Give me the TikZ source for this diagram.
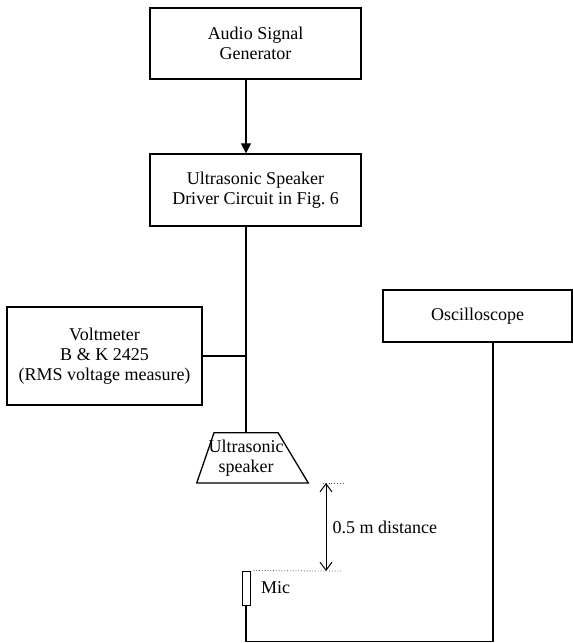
\documentclass[tikz,border=0pt]{standalone}
\usepackage{fontspec}
\setmainfont{Liberation Serif}
\usetikzlibrary{arrows.meta,calc,positioning,shapes.geometric}

\begin{document}
\begin{tikzpicture}[
  x=1pt,y=-1pt,line width=1.2pt,
  caja/.style={draw,line width=1.3pt,align=center,inner sep=0pt,font=\fontsize{18}{20}\selectfont},
  texto/.style={align=center,inner sep=0pt,font=\fontsize{18}{20}\selectfont},
  guia/.style={dotted,line width=0.8pt,black!70}
  ]

  \useasboundingbox (0,0) rectangle (573,643);

  \node[caja,minimum width=211pt,minimum height=71pt] (gen) at (255.5,43.5) {Audio Signal\\Generator};
  \node[caja,minimum width=211pt,minimum height=72pt] (drv) at (255.5,190) {Ultrasonic Speaker\\Driver Circuit in Fig.~6};
  \node[caja,minimum width=195pt,minimum height=98pt] (volt) at (104.5,356) {Voltmeter\\B \& K 2425\\(RMS voltage measure)};
  \node[caja,minimum width=189pt,minimum height=52pt] (osc) at (477.5,316) {Oscilloscope};

  \node[caja,trapezium,trapezium left angle=71,trapezium right angle=59,inner xsep=0pt,inner ysep=7pt,
    anchor=top side] (spk) at (246,432) {\makebox[64pt]{Ultrasonic}\\\makebox[64pt]{speaker}};

  \node[draw,line width=1pt,minimum width=8pt,minimum height=34pt,inner sep=0pt] (mic) at (246,588) {};
  \node[texto,right=10pt of mic] (miclbl) {Mic};

  \draw[-{Triangle[length=10pt,width=10pt]}] (gen.south -| spk.top side) -- (drv.north -| spk.top side);
  \draw (drv.south -| spk.top side) -- (spk.top side);
  \draw (volt.east) -- (volt.east -| spk.top side);
  \draw (mic.south) -- ++(0,36) -| ([xshift=15.5pt]osc.south);

  \coordinate (dtop) at (326,483);
  \coordinate (dbot) at (326,571);
  \draw[guia] (dtop) ++(-3,0) -- ++(20,0);
  \draw[guia] (mic.north east) ++(3,0) -- (dbot) -- ++(16,0);
  \draw[{Straight Barb[length=8pt,width=12pt]}-{Straight Barb[length=8pt,width=12pt]},line width=1pt] (dtop) -- (dbot);
  \node[texto,anchor=west] (dist) at ($(dtop)!.5!(dbot)+(6,0)$) {0.5 m distance};

\end{tikzpicture}
\end{document}
